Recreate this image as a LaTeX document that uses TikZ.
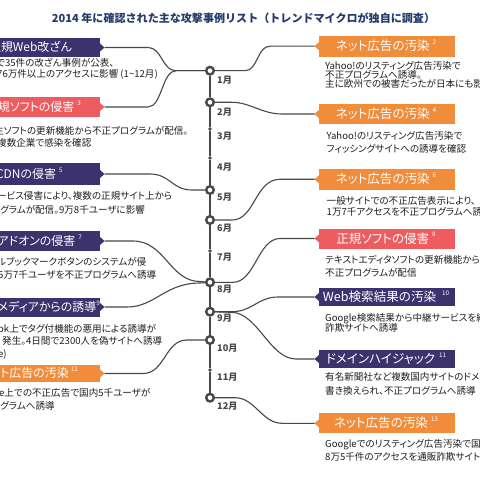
\documentclass[tikz,border=0pt]{standalone}
\usepackage{fontspec}
\setmainfont{Noto Sans CJK JP}
\newfontfamily\jpp{Noto Sans CJK JP}[RawFeature=+palt]
\usetikzlibrary{calc}
\definecolor{navyC}{RGB}{59,50,110}
\definecolor{orangeC}{RGB}{240,140,58}
\definecolor{salmonC}{RGB}{238,92,96}
\definecolor{titleC}{RGB}{36,58,108}
\definecolor{lineC}{RGB}{72,72,72}
\definecolor{textC}{RGB}{30,30,30}
\newcommand\supn[1]{\raisebox{0.5em}{\fontsize{6.3}{6}\selectfont #1}}
\newcommand\rightbox[5]{% name, colour, y, height, label
  \node[ebox=#2, minimum height=#4bp, anchor=west] (#1) at (319,#3) {};
  \fill[#2] ($(#1.west)+(0,-4)$) -- ++(-4.5,4) -- ++(4.5,4) -- cycle;
  \coordinate (#1t) at ($(#1.west)+(-4.5,0)$);
  \node[btxt, anchor=base] (#1l) at ($(386,#3)+(0,4.5)$) {#5};
}
\newcommand\leftbox[6]{% name, colour, y, height, label east x, label
  \node[ebox=#2, minimum height=#4bp, anchor=east] (#1) at (100,#3) {};
  \fill[#2] ($(#1.east)+(0,-4)$) -- ++(4.5,4) -- ++(-4.5,4) -- cycle;
  \coordinate (#1t) at ($(#1.east)+(4.5,0)$);
  \node[btxtL, anchor=base east] (#1l) at ($(#5,#3)+(0,4.3)$) {#6};
}
\begin{document}
\begin{tikzpicture}[x=1bp,y=-1bp,
  conn/.style={draw=lineC, line width=1.1bp},
  vline/.style={draw=lineC, line width=1.7bp},
  mcirc/.style={circle, draw=lineC, line width=2.4bp, fill=white, minimum size=7.6bp, inner sep=0pt},
  mdot/.style={circle, fill=lineC, minimum size=3.6bp, inner sep=0pt, outer sep=0pt},
  mlabel/.style={anchor=west, inner sep=0pt, text=lineC, font=\fontsize{9.2}{9}\selectfont\bfseries},
  ebox/.style={fill=#1, minimum width=136bp, inner sep=0pt, outer sep=0pt},
  btxt/.style={text=white, inner sep=0pt, font=\jpp\fontsize{12.6}{13}\selectfont},
  btxtL/.style={text=white, inner sep=0pt, font=\jpp\fontsize{12}{13}\selectfont},
  body/.style={inner sep=0pt, text=textC, font=\jpp\fontsize{9.6}{10}\selectfont, anchor=base west},
  titletxt/.style={inner sep=0pt, text=titleC, font=\fontsize{11.1}{12}\selectfont\bfseries}
]
\useasboundingbox (0,0) rectangle (480,480);
\fill[white] (0,0) rectangle (480,480);
\clip (0,0) rectangle (480,480);

\node[titletxt] (title) at (243.5,18.5) {2014 年に確認された主な攻撃事例リスト（トレンドマイクロが独自に調査）};

% month markers
\node[mcirc] (m1) at (210,70.7) {};
\node[mcirc] (m2) at (210,102.3) {};
\node[mdot]  (m3) at (210,129) {};
\node[mdot]  (m4) at (210,158) {};
\node[mcirc] (m5) at (210,190) {};
\node[mcirc] (m6) at (210,220) {};
\node[mdot]  (m7) at (210,251) {};
\node[mcirc] (m8) at (210,282.3) {};
\node[mcirc] (m9) at (210,311.7) {};
\node[mcirc] (m10) at (210,340) {};
\node[mdot]  (m11) at (210,370) {};
\node[mcirc] (m12) at (210,397.7) {};
\foreach \a/\b in {m1/m2,m2/m3,m3/m4,m4/m5,m5/m6,m6/m7,m7/m8,m8/m9,m9/m10,m10/m11,m11/m12}
  \draw[vline] (\a) -- (\b);

\node[mlabel] (t1) at (217,80.7) {1月};
\node[mlabel] (t2) at (217,112.7) {2月};
\node[mlabel] (t3) at (217,136.5) {3月};
\node[mlabel] (t4) at (217,167) {4月};
\node[mlabel] (t5) at (217,197) {5月};
\node[mlabel] (t6) at (217,228) {6月};
\node[mlabel] (t7) at (217,257.5) {7月};
\node[mlabel] (t8) at (217,289) {8月};
\node[mlabel] (t9) at (217,318.5) {9月};
\node[mlabel] (t10) at (217,348) {10月};
\node[mlabel] (t11) at (217,377.7) {11月};
\node[mlabel] (t12) at (217,406) {12月};

% right boxes
\rightbox{r1}{orangeC}{46.2}{21}{ネット広告の汚染\hspace{3bp}\supn{2}}
\rightbox{r2}{orangeC}{114}{20}{ネット広告の汚染\hspace{3bp}\supn{4}}
\rightbox{r3}{orangeC}{179.3}{21}{ネット広告の汚染\hspace{3bp}\supn{6}}
\rightbox{r4}{salmonC}{238.5}{20}{正規ソフトの侵害\hspace{3bp}\supn{8}}
\rightbox{r5}{navyC}{297}{18}{Web検索結果の汚染\hspace{6bp}\supn{10}}
\rightbox{r6}{navyC}{359}{18}{ドメインハイジャック\hspace{4bp}\supn{11}}
\rightbox{r7}{orangeC}{423.3}{20}{ネット広告の汚染\hspace{3bp}\supn{13}}

% left boxes
\leftbox{l1}{navyC}{47.5}{18.5}{72}{正規Web改ざん}
\leftbox{l2}{salmonC}{107}{20.5}{81}{正規ソフトの侵害\hspace{3bp}\supn{3}}
\leftbox{l3}{navyC}{174}{21}{62.7}{CDNの侵害\hspace{3bp}\supn{5}}
\leftbox{l4}{navyC}{241}{20}{82}{アドオンの侵害\hspace{3bp}\supn{7}}
\leftbox{l5}{navyC}{307}{19}{100}{ソーシャルメディアからの誘導\supn{9}}
\leftbox{l6}{orangeC}{373.5}{17}{78}{ネット広告の汚染\hspace{2bp}\supn{12}}

% connectors right
\draw[conn] (m1) -- (245,70.7) .. controls (258,70.7) and (257,46.2) .. (270,46.2) -- (r1t);
\draw[conn] (m2) -- (232,102.3) .. controls (250,102.3) and (262,114) .. (282,114) -- (r2t);
\draw[conn] (m6) -- (232,220) .. controls (255,220) and (255,179.3) .. (280,179.3) -- (r3t);
\draw[conn] (m8) -- (233,282.3) .. controls (255,282.3) and (258,238.5) .. (280,238.5) -- (r4t);
\draw[conn] (m9) -- (232,311.7) .. controls (252,311.7) and (258,297) .. (278,297) -- (r5t);
\draw[conn] (m9) -- (232,312.3) .. controls (258,313.5) and (270,359) .. (296,359) -- (r6t);
\draw[conn] (m12) -- (235,397.7) .. controls (255,397.7) and (262,423.3) .. (282,423.3) -- (r7t);

% connectors left
\draw[conn] (l1t) -- (148,47.5) .. controls (162,47.5) and (162,70.7) .. (176,70.7) -- (m1);
\draw[conn] (l2t) -- (148,107) .. controls (162,107) and (162,70.7) .. (176,70.7) -- (m1);
\draw[conn] (l3t) -- (150,174) .. controls (170,174) and (172,190) .. (192,190) -- (m5);
\draw[conn] (l4t) -- (133,241) .. controls (165,241) and (170,281.5) .. (200,281.5) -- (m8);
\draw[conn] (l5t) -- (127,307) .. controls (155,307) and (165,283) .. (200,283) -- (m8);
\draw[conn] (l6t) -- (143,373.5) .. controls (165,373.5) and (165,340) .. (187,340) -- (m10);

% right texts
\node[body] (r1a) at (325,69.2) {Yahoo!のリスティング広告汚染で};
\node[body] (r1b) at (325,78.5) {不正プログラムへ誘導。};
\node[body] (r1c) at (325,87.5) {主に欧州での被害だったが日本にも影響};
\node[body] (r2a) at (326.5,139.5) {Yahoo!のリスティング広告汚染で};
\node[body] (r2b) at (326.5,152.8) {フィッシングサイトへの誘導を確認};
\node[body] (r3a) at (326.5,204.2) {一般サイトでの不正広告表示により、};
\node[body] (r3b) at (326.5,215.2) {1万7千アクセスを不正プログラムへ誘導};
\node[body] (r4a) at (325,263.5) {テキストエディタソフトの更新機能から};
\node[body] (r4b) at (325,276.2) {不正プログラムが配信};
\node[body] (r5a) at (325,321.2) {Google検索結果から中継サービスを経由し};
\node[body] (r5b) at (325,331.8) {詐欺サイトへ誘導};
\node[body] (r6a) at (325,380.2) {有名新聞社など複数国内サイトのドメインが};
\node[body] (r6b) at (325,394.2) {書き換えられ、不正プログラムへ誘導};
\node[body] (r7a) at (325,447.5) {Googleでのリスティング広告汚染で国内};
\node[body] (r7b) at (325,460.8) {8万5千件のアクセスを通販詐欺サイトへ誘導};

% left texts
\node[body] (l1a) at (-4,66.2) {で35件の改ざん事例が公表、};
\node[body] (l1b) at (-3,77.8) {76万件以上のアクセスに影響 (1\textasciitilde12月)};
\node[body] (l2a) at (-6,134.5) {生ソフトの更新機能から不正プログラムが配信。};
\node[body] (l2b) at (-3,147) {複数企業で感染を確認};
\node[body] (l3a) at (-3,199.2) {ービス侵害により、複数の正規サイト上から};
\node[body] (l3b) at (0,213.5) {グラムが配信。9万8千ユーザに影響};
\node[body] (l4a) at (-3,265.8) {ルブックマークボタンのシステムが侵};
\node[body] (l4b) at (-2,278.5) {5万7千ユーザを不正プログラムへ誘導};
\node[body] (l5a) at (-2,332.8) {ok上でタグ付機能の悪用による誘導が};
\node[body] (l5b) at (2,344.5) {発生。4日間で2300人を偽サイトへ誘導};
\node[body] (l5c) at (-2,357.5) {e)};
\node[body] (l6a) at (-1,396.8) {e上での不正広告で国内5千ユーザが};
\node[body] (l6b) at (0,409.5) {グラムへ誘導};
\end{tikzpicture}
\end{document}
